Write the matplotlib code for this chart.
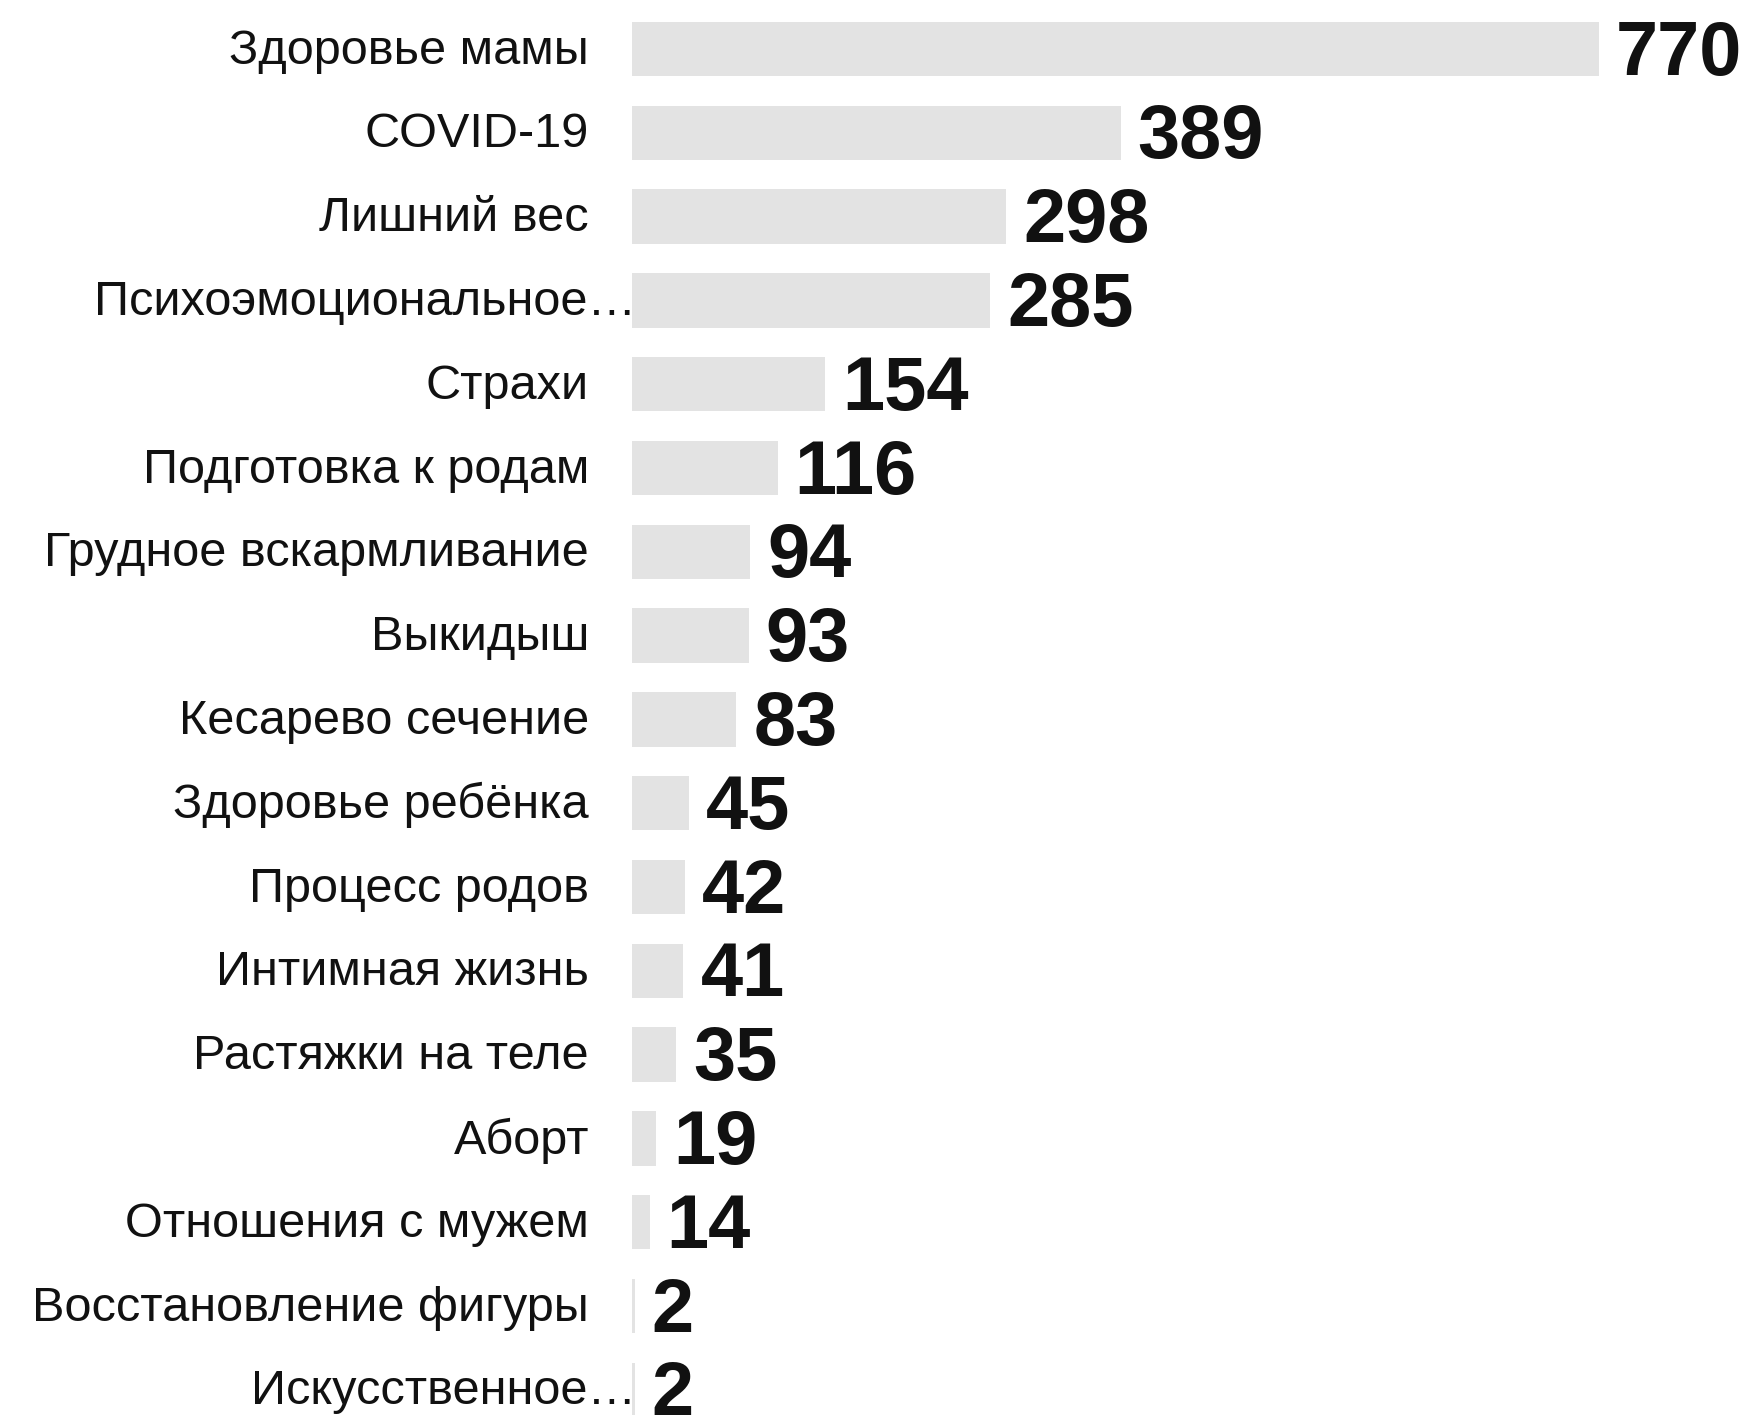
import matplotlib.pyplot as plt

plt.rcParams['font.family'] = ['Liberation Sans', 'DejaVu Sans']

topics = [
    "Здоровье мамы", "COVID-19", "Лишний вес", "Психоэмоциональное…",
    "Страхи", "Подготовка к родам", "Грудное вскармливание", "Выкидыш",
    "Кесарево сечение", "Здоровье ребёнка", "Процесс родов",
    "Интимная жизнь", "Растяжки на теле", "Аборт", "Отношения с мужем",
    "Восстановление фигуры", "Искусственное…",
]
counts = [770, 389, 298, 285, 154, 116, 94, 93, 83, 45, 42, 41, 35, 19, 14, 2, 2]

W, H = 1747, 1415
fig = plt.figure(figsize=(W / 100, H / 100), dpi=100)
left = 632 / W
ax = fig.add_axes([left, 0, 1 - left, 1])

ypos = list(range(len(topics)))
ax.barh(ypos, counts, height=0.65, color="#e3e3e3", edgecolor="none")

ax.set_xlim(0, (W - 632) / 1.256)
ax.set_ylim(16.3, -0.585)
ax.axis("off")

for y, name, v in zip(ypos, topics, counts):
    # shortened names run right up to the bar
    dx = 4 if name.endswith("…") else -43
    ax.annotate(name, xy=(0, y), xytext=(dx, -2), textcoords="offset pixels",
                ha="right", va="center", fontsize=35, color="#111111",
                annotation_clip=False)
    ax.annotate(str(v), xy=(v, y), xytext=(17, -6), textcoords="offset pixels",
                ha="left", va="center", fontsize=54.5, fontweight="bold",
                color="#111111", annotation_clip=False)

fig.savefig("out.png", dpi=100)
